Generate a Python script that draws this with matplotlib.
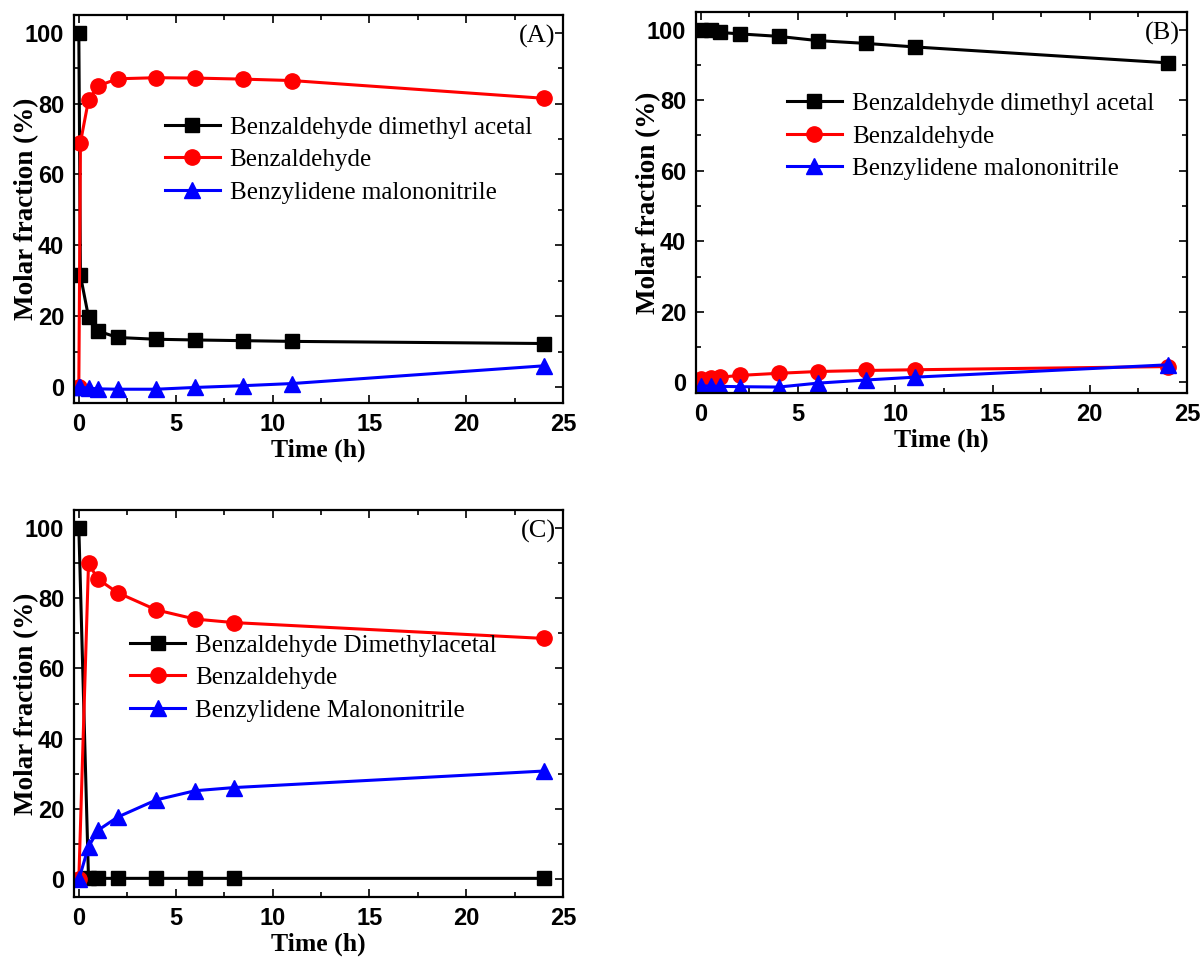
import matplotlib
matplotlib.use("Agg")
import matplotlib.pyplot as plt
from matplotlib.ticker import MultipleLocator

# Panel A
tA = [0, 0.083, 0.5, 1, 2, 4, 6, 8.5, 11, 24]
acetalA = [100, 31.5, 19.8, 15.8, 14.0, 13.5, 13.3, 13.1, 12.9, 12.3]
aldehA = [0, 69, 81, 85, 87, 87.3, 87.2, 86.9, 86.5, 81.5]
nitrileA = [0, 0, -0.3, -0.5, -0.6, -0.6, -0.1, 0.4, 1.0, 6.0]

# Panel B
tB = [0, 0.5, 1, 2, 4, 6, 8.5, 11, 24]
acetalB = [100, 99.8, 99.2, 98.8, 98.1, 96.9, 96.1, 95.1, 90.6]
aldehB = [1.0, 1.2, 1.5, 2.0, 2.6, 3.1, 3.4, 3.6, 4.5]
nitrileB = [-1.0, -1.0, -1.1, -1.2, -1.3, -0.2, 0.7, 1.5, 5.0]

# Panel C
tC = [0, 0.5, 1, 2, 4, 6, 8, 24]
acetalC = [100, 0.3, 0.3, 0.3, 0.3, 0.3, 0.3, 0.3]
aldehC = [0, 89.8, 85.3, 81.5, 76.6, 74.0, 73.0, 68.5]
nitrileC = [0, 9.3, 14.0, 17.7, 22.6, 25.2, 26.1, 30.8]

labelsAB = ["Benzaldehyde dimethyl acetal", "Benzaldehyde", "Benzylidene malononitrile"]
labelsC = ["Benzaldehyde Dimethylacetal", "Benzaldehyde", "Benzylidene Malononitrile"]

SERIF = "Liberation Serif"
SANS = "Liberation Sans"


def draw(ax, t, ys, labels, ylim, tag, leg_anchor):
    styles = [("black", "s", 9.5), ("red", "o", 11), ("blue", "^", 11)]
    for y, lab, (c, m, ms) in zip(ys, labels, styles):
        ax.plot(t, y, color=c, marker=m, markersize=ms, linewidth=2.2, label=lab)
    ax.set_xlim(-0.25, 25)
    ax.set_ylim(*ylim)
    ax.xaxis.set_major_locator(MultipleLocator(5))
    ax.xaxis.set_minor_locator(MultipleLocator(2.5))
    ax.yaxis.set_major_locator(MultipleLocator(20))
    ax.yaxis.set_minor_locator(MultipleLocator(10))
    ax.tick_params(which="both", direction="in", top=True, right=True, width=1.2)
    ax.tick_params(which="major", length=6, labelsize=17, pad=7)
    ax.tick_params(which="minor", length=3.5)
    for lbl in ax.get_xticklabels() + ax.get_yticklabels():
        lbl.set_fontfamily(SANS)
        lbl.set_fontweight("bold")
    for sp in ax.spines.values():
        sp.set_linewidth(1.6)
    ax.set_xlabel("Time (h)", fontfamily=SERIF, fontweight="bold", fontsize=18.5, labelpad=2)
    ax.set_ylabel("Molar fraction (%)", fontfamily=SERIF, fontweight="bold", fontsize=19.5)
    ax.yaxis.set_label_coords(-0.072, 0.5)
    ax.text(0.985, 0.975, tag, transform=ax.transAxes, ha="right", va="top",
            fontfamily=SERIF, fontsize=19)
    ax.legend(loc="upper left", bbox_to_anchor=leg_anchor, frameon=False,
              prop={"family": SERIF, "size": 18}, handlelength=2.2,
              handletextpad=0.4, labelspacing=0.4, borderaxespad=0)


fig = plt.figure(figsize=(12.01, 9.61), dpi=100)
axA = fig.add_axes([0.0616, 0.5806, 0.4072, 0.4038])
axB = fig.add_axes([0.5795, 0.5910, 0.4088, 0.3965])
axC = fig.add_axes([0.0616, 0.0666, 0.4072, 0.4027])

draw(axA, tA, [acetalA, aldehA, nitrileA], labelsAB, (-4.5, 105), "(A)", (0.165, 0.765))
draw(axB, tB, [acetalB, aldehB, nitrileB], labelsAB, (-3, 105), "(B)", (0.165, 0.815))
draw(axC, tC, [acetalC, aldehC, nitrileC], labelsC, (-5, 105), "(C)", (0.095, 0.705))

fig.savefig("out.png", dpi=100)
